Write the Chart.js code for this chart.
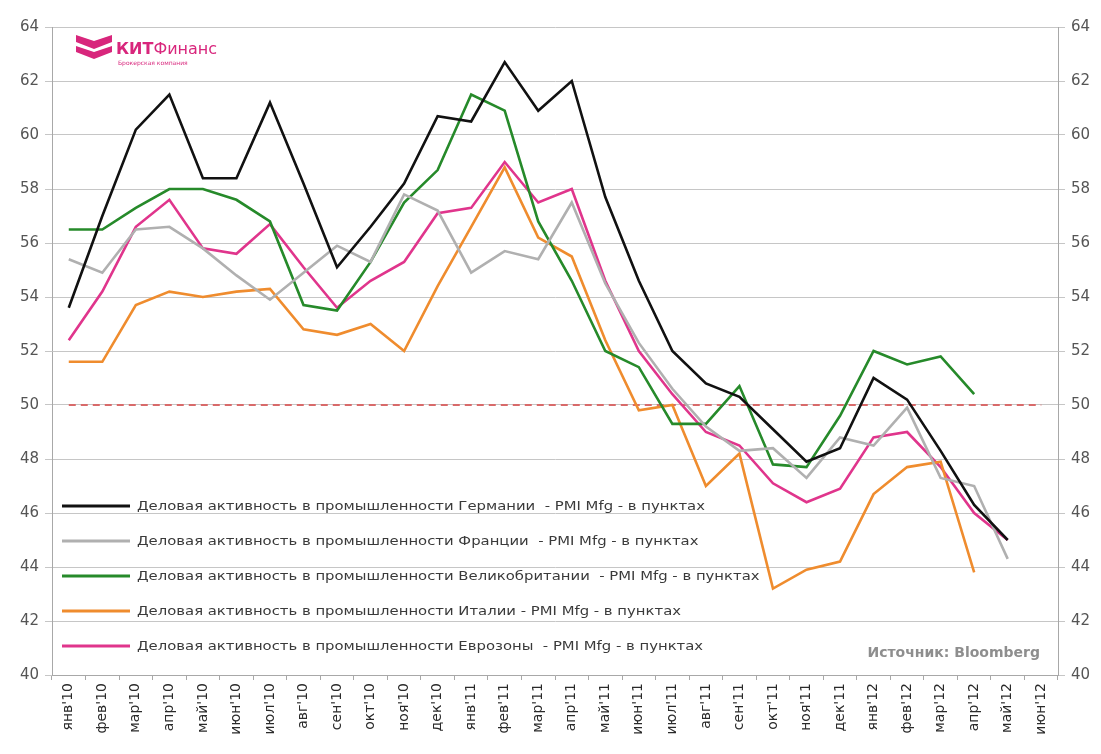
<!DOCTYPE html>
<html lang="ru">
  <head>
    <meta charset="UTF-8" />
    <title>PMI Mfg</title>
    <style>
      body { margin: 0; background: #fff; }
      #wrap { width: 1101px; height: 754px; }
    </style>
  </head>
  <body>
    <div id="wrap"><canvas id="myChart" width="1101" height="754"></canvas></div>

    <script src="https://cdn.jsdelivr.net/npm/chart.js@4/dist/chart.umd.min.js"></script>
    <script>
      const months = [
        "янв'10", "фев'10", "мар'10", "апр'10", "май'10", "июн'10", "июл'10", "авг'10", "сен'10", "окт'10", "ноя'10", "дек'10",
        "янв'11", "фев'11", "мар'11", "апр'11", "май'11", "июн'11", "июл'11", "авг'11", "сен'11", "окт'11", "ноя'11", "дек'11",
        "янв'12", "фев'12", "мар'12", "апр'12", "май'12", "июн'12"
      ];

      const germany = [53.6, 57.0, 60.2, 61.5, 58.4, 58.4, 61.2, 58.2, 55.1, 56.6, 58.2, 60.7,
        60.5, 62.7, 60.9, 62.0, 57.7, 54.6, 52.0, 50.8, 50.3, 49.1, 47.9, 48.4,
        51.0, 50.2, 48.3, 46.3, 45.0, null];
      const france = [55.4, 54.9, 56.5, 56.6, 55.8, 54.8, 53.9, 54.9, 55.9, 55.3, 57.8, 57.2,
        54.9, 55.7, 55.4, 57.5, 54.5, 52.3, 50.6, 49.2, 48.3, 48.4, 47.3, 48.8,
        48.5, 49.9, 47.3, 47.0, 44.3, null];
      const britain = [56.5, 56.5, 57.3, 58.0, 58.0, 57.6, 56.8, 53.7, 53.5, 55.3, 57.5, 58.7,
        61.5, 60.9, 56.8, 54.6, 52.0, 51.4, 49.3, 49.3, 50.7, 47.8, 47.7, 49.6,
        52.0, 51.5, 51.8, 50.4, null, null];
      const italy = [51.6, 51.6, 53.7, 54.2, 54.0, 54.2, 54.3, 52.8, 52.6, 53.0, 52.0, 54.4,
        56.6, 58.8, 56.2, 55.5, 52.4, 49.8, 50.0, 47.0, 48.2, 43.2, 43.9, 44.2,
        46.7, 47.7, 47.9, 43.8, null, null];
      const eurozone = [52.4, 54.2, 56.6, 57.6, 55.8, 55.6, 56.7, 55.1, 53.6, 54.6, 55.3, 57.1,
        57.3, 59.0, 57.5, 58.0, 54.6, 52.0, 50.4, 49.0, 48.5, 47.1, 46.4, 46.9,
        48.8, 49.0, 47.7, 46.0, 45.0, null];
      const level50 = [50, 50, 50, 50, 50, 50, 50, 50, 50, 50, 50, 50, 50, 50, 50,
        50, 50, 50, 50, 50, 50, 50, 50, 50, 50, 50, 50, 50, 50, 50];

      const legendLabels = [
        "Деловая активность в промышленности Германии  - PMI Mfg - в пунктах",
        "Деловая активность в промышленности Франции  - PMI Mfg - в пунктах",
        "Деловая активность в промышленности Великобритании  - PMI Mfg - в пунктах",
        "Деловая активность в промышленности Италии - PMI Mfg - в пунктах",
        "Деловая активность в промышленности Еврозоны  - PMI Mfg - в пунктах"
      ];

      const font = "'DejaVu Sans', sans-serif";

      // legend inside the plot + logo + source
      const extras = {
        id: "extras",
        afterDatasetsDraw(chart) {
          const ctx = chart.ctx;
          ctx.save();
          ctx.font = "12px " + font;
          const sx = 568 / ctx.measureText(legendLabels[0]).width;
          legendLabels.forEach((txt, i) => {
            const y = 506 + i * 35;
            ctx.strokeStyle = chart.data.datasets[i].borderColor;
            ctx.lineWidth = 3;
            ctx.beginPath();
            ctx.moveTo(62, y);
            ctx.lineTo(130, y);
            ctx.stroke();
            ctx.save();
            ctx.translate(137, y);
            ctx.scale(sx, 1);
            ctx.fillStyle = "#3a3a3a";
            ctx.textBaseline = "middle";
            ctx.fillText(txt, 0, 1);
            ctx.restore();
          });

          ctx.font = "bold 14px " + font;
          ctx.fillStyle = "#8e8e8e";
          ctx.textAlign = "right";
          ctx.textBaseline = "middle";
          ctx.fillText("Источник: Bloomberg", 1040, 653);

          // logo
          ctx.fillStyle = "#d8267c";
          ctx.beginPath();
          ctx.moveTo(76, 35); ctx.lineTo(94, 41); ctx.lineTo(112, 35);
          ctx.lineTo(112, 42); ctx.lineTo(94, 49); ctx.lineTo(76, 42);
          ctx.closePath();
          ctx.fill();
          ctx.beginPath();
          ctx.moveTo(76, 46); ctx.lineTo(94, 52); ctx.lineTo(112, 46);
          ctx.lineTo(112, 52); ctx.lineTo(94, 59); ctx.lineTo(76, 52);
          ctx.closePath();
          ctx.fill();
          ctx.textAlign = "left";
          ctx.textBaseline = "alphabetic";
          ctx.font = "bold 16px " + font;
          ctx.fillText("КИТ", 116, 54);
          const w = ctx.measureText("КИТ").width;
          ctx.font = "16px " + font;
          ctx.fillText("Финанс", 116 + w, 54);
          ctx.font = "6px " + font;
          ctx.fillText("Брокерская компания", 118, 65);
          ctx.restore();
        }
      };

      const ctx = document.getElementById("myChart").getContext("2d");
      const chart = new Chart(ctx, {
        type: "line",
        data: {
          labels: months,
          datasets: [
            { label: legendLabels[0], data: germany, borderColor: "#111111" },
            { label: legendLabels[1], data: france, borderColor: "#b0b0b0" },
            { label: legendLabels[2], data: britain, borderColor: "#268a2a" },
            { label: legendLabels[3], data: italy, borderColor: "#ef8c2e" },
            { label: legendLabels[4], data: eurozone, borderColor: "#e0358c" },
            { label: "50", data: level50, borderColor: "#d86a6a", borderWidth: 1.8, borderDash: [7, 5] }
          ]
        },
        options: {
          responsive: false,
          animation: false,
          layout: { padding: { top: 27, left: 0, right: 0, bottom: 0 } },
          elements: {
            line: { borderWidth: 2.6, tension: 0, fill: false },
            point: { radius: 0 }
          },
          plugins: {
            legend: { display: false },
            tooltip: { enabled: false }
          },
          scales: {
            x: {
              offset: true,
              grid: { offset: true, drawOnChartArea: false, tickLength: 5, color: "#a8a8a8" },
              border: { color: "#a8a8a8" },
              ticks: {
                autoSkip: false,
                maxRotation: 90,
                minRotation: 90,
                padding: 3,
                color: "#2a2a2a",
                font: { family: font, size: 14 }
              },
              afterFit: s => { s.height = 79; }
            },
            y: {
              min: 40,
              max: 64,
              ticks: { stepSize: 2, padding: 6, color: "#555", font: { family: font, size: 15 } },
              grid: { color: "#c6c6c6", tickLength: 7 },
              border: { color: "#a8a8a8" },
              afterFit: s => { s.width = 52; }
            },
            y2: {
              position: "right",
              min: 40,
              max: 64,
              ticks: { stepSize: 2, padding: 6, color: "#555", font: { family: font, size: 15 } },
              grid: { drawOnChartArea: false, color: "#c6c6c6", tickLength: 7 },
              border: { color: "#a8a8a8" },
              afterFit: s => { s.width = 43; }
            }
          }
        },
        plugins: [extras]
      });
    </script>
  </body>
</html>
